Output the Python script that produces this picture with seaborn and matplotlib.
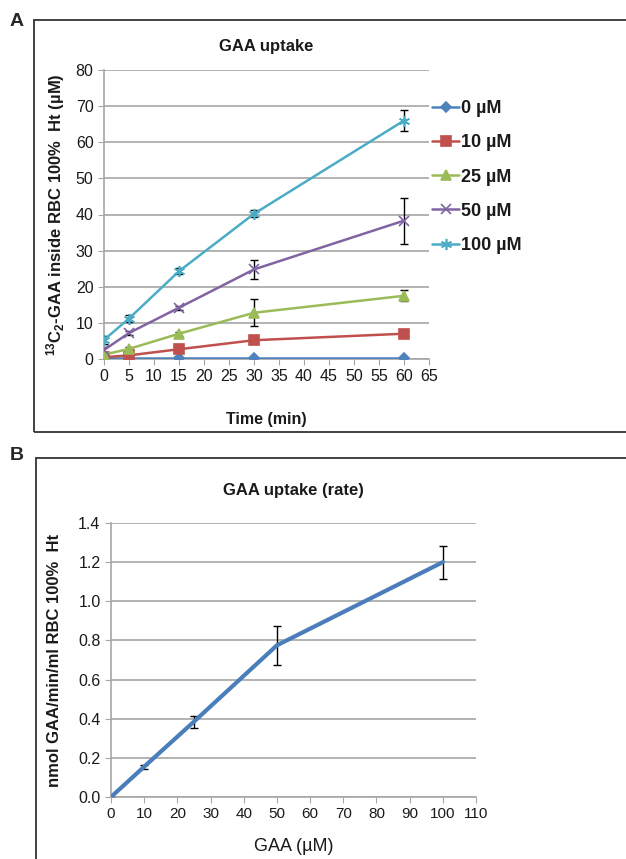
import numpy as np
import pandas as pd
import matplotlib
matplotlib.use("Agg")
import matplotlib.pyplot as plt
import seaborn as sns
from matplotlib.patches import Rectangle

# ── panel A data: 13C2-GAA inside RBC (µM) vs time ──
times = [0, 5, 15, 30, 60]
conc_labels = ["0 µM", "10 µM", "25 µM", "50 µM", "100 µM"]
uptake_0 = [0.2, 0.2, 0.2, 0.2, 0.2]
uptake_10 = [0.5, 1.0, 2.7, 5.2, 7.0]
uptake_25 = [1.2, 2.8, 7.0, 12.8, 17.5]
uptake_50 = [2.5, 7.2, 14.2, 24.8, 38.3]
uptake_100 = [5.3, 11.2, 24.3, 40.2, 66.0]
err_0 = [0.0, 0.0, 0.0, 0.0, 0.0]
err_10 = [0.2, 0.2, 0.3, 0.4, 0.5]
err_25 = [0.3, 0.4, 0.5, 3.7, 1.5]
err_50 = [0.8, 0.6, 0.5, 2.6, 6.4]
err_100 = [1.2, 0.9, 0.9, 1.0, 3.0]

# ── panel B data: uptake rate vs GAA concentration ──
gaa_conc = [0, 10, 25, 50, 100]
rate = [0.0, 0.155, 0.385, 0.775, 1.20]
rate_err = [0.0, 0.01, 0.03, 0.10, 0.085]

colors = ["#4F81BD", "#C0504D", "#9BBB59", "#8064A2", "#4BACC6"]
markers = ["D", "s", "^", "x", (6, 2, 0)]
msizes = [5, 7, 7, 7, 8]

sns.set_style("white")
plt.rcParams["font.family"] = ["Liberation Sans", "DejaVu Sans"]
plt.rcParams["mathtext.fontset"] = "custom"
plt.rcParams["mathtext.rm"] = "Liberation Sans:bold"
plt.rcParams["mathtext.default"] = "rm"

txt = "#1a1a1a"
grid_c = "#A6A6A6"

fig = plt.figure(figsize=(6.26, 8.59), dpi=100)

# frames around the panels
fig.patches.append(Rectangle((34 / 626, 1 - 432 / 859), 1.0, 412 / 859,
                             transform=fig.transFigure, fill=False, lw=1.3, ec="#333333"))
fig.patches.append(Rectangle((36 / 626, -0.05), 1.0, 1 - 458 / 859 + 0.05,
                             transform=fig.transFigure, fill=False, lw=1.3, ec="#333333"))
fig.text(10 / 626, 1 - 22 / 859, "A", fontsize=14, fontweight="bold", va="center")
fig.text(10 / 626, 1 - 456 / 859, "B", fontsize=14, fontweight="bold", va="center")

# ── panel A ──
axA = fig.add_axes([104 / 626, 1 - 359 / 859, 325 / 626, 289 / 859])
series = [uptake_0, uptake_10, uptake_25, uptake_50, uptake_100]
errs = [err_0, err_10, err_25, err_50, err_100]
dfA = pd.DataFrame({
    "time": np.tile(times, len(conc_labels)),
    "value": np.concatenate(series),
    "conc": np.repeat(conc_labels, len(times)),
})
for i, lab in enumerate(conc_labels):
    sub = dfA[dfA["conc"] == lab]
    axA.errorbar(sub["time"], sub["value"], yerr=errs[i], fmt="none",
                 ecolor="black", elinewidth=1, capsize=3, zorder=2)
    sns.lineplot(data=sub, x="time", y="value", ax=axA, color=colors[i],
                 marker=markers[i], markersize=msizes[i], markeredgecolor=colors[i],
                 markeredgewidth=1.2, linewidth=1.8, label=lab, zorder=3)

axA.set_xlim(0, 65)
axA.set_ylim(0, 80)
axA.set_xticks(range(0, 66, 5))
axA.set_yticks(range(0, 81, 10))
axA.yaxis.grid(True, color=grid_c, lw=1.2)
axA.xaxis.grid(False)
for s in ["top", "right"]:
    axA.spines[s].set_visible(False)
for s in ["left", "bottom"]:
    axA.spines[s].set_color(grid_c)
    axA.spines[s].set_linewidth(1.2)
axA.tick_params(axis="both", direction="out", length=4, color=grid_c,
                labelsize=11.5, labelcolor=txt, bottom=True, left=True)
axA.set_title("GAA uptake", fontsize=12, fontweight="bold", color=txt, pad=14)
axA.set_xlabel("Time (min)", fontsize=11.5, fontweight="bold", color=txt, labelpad=20)
axA.set_ylabel("$^{13}$C$_2$-GAA inside RBC 100%  Ht (µM)", fontsize=12,
               fontweight="bold", color=txt, labelpad=6)
leg = axA.legend(loc="upper left", bbox_to_anchor=(1.01, 0.895), frameon=False,
                 borderaxespad=0, borderpad=0,
                 handlelength=1.5, handletextpad=0.1, labelspacing=0.95,
                 prop={"size": 13, "weight": "bold"})
for t in leg.get_texts():
    t.set_color(txt)

# ── panel B ──
axB = fig.add_axes([111 / 626, 1 - 797 / 859, 365 / 626, 274 / 859])
dfB = pd.DataFrame({"gaa": gaa_conc, "rate": rate})
axB.errorbar(dfB["gaa"], dfB["rate"], yerr=rate_err, fmt="none",
             ecolor="black", elinewidth=1, capsize=3, zorder=2)
sns.lineplot(data=dfB, x="gaa", y="rate", ax=axB, color="#4A7EBB", linewidth=3, zorder=3)
axB.set_xlim(0, 110)
axB.set_ylim(0, 1.4)
axB.set_xticks(range(0, 111, 10))
axB.set_yticks(np.arange(0, 1.41, 0.2))
axB.set_yticklabels([f"{v:.1f}" for v in np.arange(0, 1.41, 0.2)])
axB.yaxis.grid(True, color=grid_c, lw=1.2)
axB.xaxis.grid(False)
for s in ["top", "right"]:
    axB.spines[s].set_visible(False)
for s in ["left", "bottom"]:
    axB.spines[s].set_color(grid_c)
    axB.spines[s].set_linewidth(1.2)
axB.tick_params(axis="both", direction="out", length=4, color=grid_c,
                labelsize=11.5, labelcolor=txt, bottom=True, left=True)
axB.tick_params(axis="x", labelsize=11)
axB.set_title("GAA uptake (rate)", fontsize=12, fontweight="bold", color=txt, pad=20)
axB.set_xlabel("GAA (µM)", fontsize=13, color=txt, labelpad=12)
axB.set_ylabel("nmol GAA/min/ml RBC 100%  Ht", fontsize=12, fontweight="bold",
               color=txt, labelpad=12)

fig.savefig("out.png", dpi=100)
